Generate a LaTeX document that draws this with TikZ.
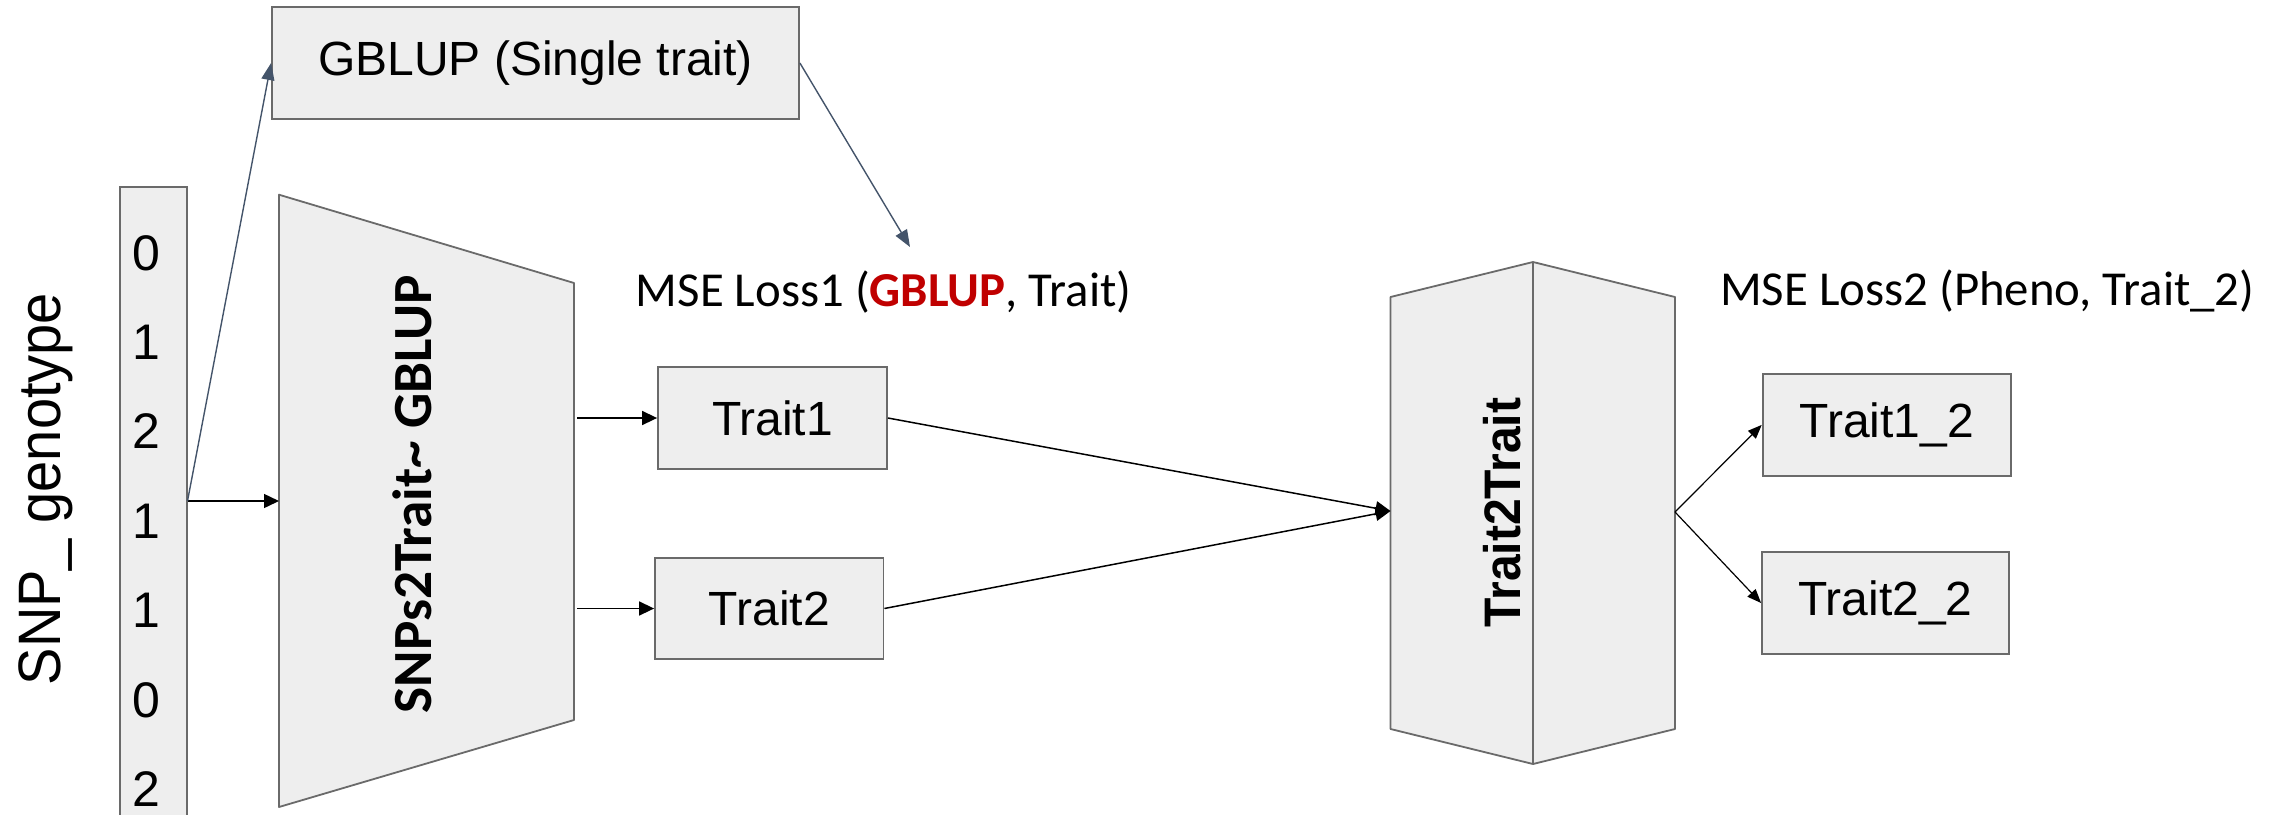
\documentclass[tikz,border=0pt]{standalone}
\usepackage{fontspec}
\setmainfont{Liberation Sans}
\newfontfamily\calib{Carlito}
\usetikzlibrary{arrows.meta,calc}
\definecolor{boxfill}{HTML}{EEEEEE}
\definecolor{boxline}{HTML}{6A6A6A}
\definecolor{slate}{HTML}{44546A}
\definecolor{darkred}{HTML}{C00000}
\tikzset{
 box/.style={draw=boxline, fill=boxfill, line width=1.8pt, inner sep=0pt, font=\fontsize{48}{58}\selectfont},
 arr/.style={draw=black, line width=1.5pt, -{Triangle[length=15pt,width=14pt]}},
 thinarr/.style={draw=black, line width=1.2pt, -{Triangle[length=14pt,width=11pt]}},
 slatearr/.style={draw=slate, line width=1.4pt, -{Triangle[length=17pt,width=13pt]}},
 digit/.style={anchor=base, inner sep=0pt, font=\fontsize{50}{60}\selectfont},
 shapefill/.style={draw=boxline, fill=boxfill, line width=1.8pt, line join=round},
 vlabel/.style={rotate=90, anchor=base, inner sep=0pt},
 loss/.style={anchor=base west, inner sep=0pt, font=\calib\fontsize{48.8}{58}\selectfont},
}
\begin{document}
\begin{tikzpicture}[x=1pt,y=-1pt]
\useasboundingbox (0,0) rectangle (2285,814);
\clip (0,0) rectangle (2285,814);

% SNP column
\node[box, minimum width=66.6pt, minimum height=643pt] (col) at (153.3,508.5) {};
\foreach \d [count=\i from 0] in {0,1,2,1,1,0,2}
  \node[digit] (d\i) at (146,{270+89.4*\i}) {\d};
\node[vlabel, font=\fontsize{56}{66}\selectfont] (snplab) at (60,489) {\scalebox{1}[1.07]{SNP\_ genotype}};

% GBLUP box
\node[box, minimum width=527pt, minimum height=112pt] (gblup) at (535.5,63) {GBLUP (Single trait)};

% trapezoid
\coordinate (tl) at (279,194.7);
\coordinate (tr) at (574,283);
\coordinate (br) at (574,720);
\coordinate (bl) at (279,807);
\draw[shapefill] (tl) -- (tr) -- (br) -- (bl) -- cycle;
\node[vlabel, font=\calib\bfseries\fontsize{55.3}{64}\selectfont] (snps) at (431.7,494) {SNPs2Trait\char`~\ GBLUP};
\coordinate (trapL) at (279,501);
\coordinate (trapR1) at (577,418);
\coordinate (trapR2) at (577,608.5);

% trait boxes
\node[box, minimum width=229pt, minimum height=102pt] (t1) at (772.5,418) {Trait1};
\node[box, minimum width=228.5pt, minimum height=101pt] (t2) at (769.25,608.5) {Trait2};

% loss 1
\node[loss] (loss1) at (635.7,306) {MSE Loss1 ({\bfseries\color{darkred}GBLUP}, Trait)};
\coordinate (lossA) at (910,247);

% prism
\coordinate (pa) at (1390.5,297);
\coordinate (pb) at (1533,262);
\coordinate (pc) at (1675,297);
\coordinate (pd) at (1675,729);
\coordinate (pe) at (1533,764);
\coordinate (pf) at (1390.5,729);
\draw[shapefill] (pa) -- (pb) -- (pc) -- (pd) -- (pe) -- (pf) -- cycle;
\draw[draw=boxline, line width=1.8pt] (pb) -- (pe);
\node[vlabel, font=\bfseries\fontsize{48}{58}\selectfont] (t2t) at (1520,512.5) {\scalebox{1}[1.07]{Trait2Trait}};
\coordinate (pL) at (1390.5,511);
\coordinate (pR) at (1675,512);

% output boxes
\node[box, minimum width=248pt, minimum height=102.3pt] (t12) at (1886.6,424.9) {Trait1\_2};
\node[box, minimum width=247pt, minimum height=102pt] (t22) at (1885.5,603) {Trait2\_2};
\node[loss] (loss2) at (1720,305) {MSE Loss2 (Pheno, Trait\_2)};

% connectors
\draw[arr] (col.east |- trapL) -- (trapL);
\draw[slatearr] (col.east |- trapL) -- (gblup.west);
\draw[slatearr] (gblup.east) -- (lossA);
\draw[arr] (trapR1) -- (t1.west);
\draw[arr] (trapR2) -- (t2.west);
\draw[arr] (t1.east) -- (pL);
\draw[arr] (t2.east) -- (pL);
\draw[thinarr] (pR) -- (t12.west);
\draw[thinarr] (pR) -- (t22.west);
\end{tikzpicture}
\end{document}
